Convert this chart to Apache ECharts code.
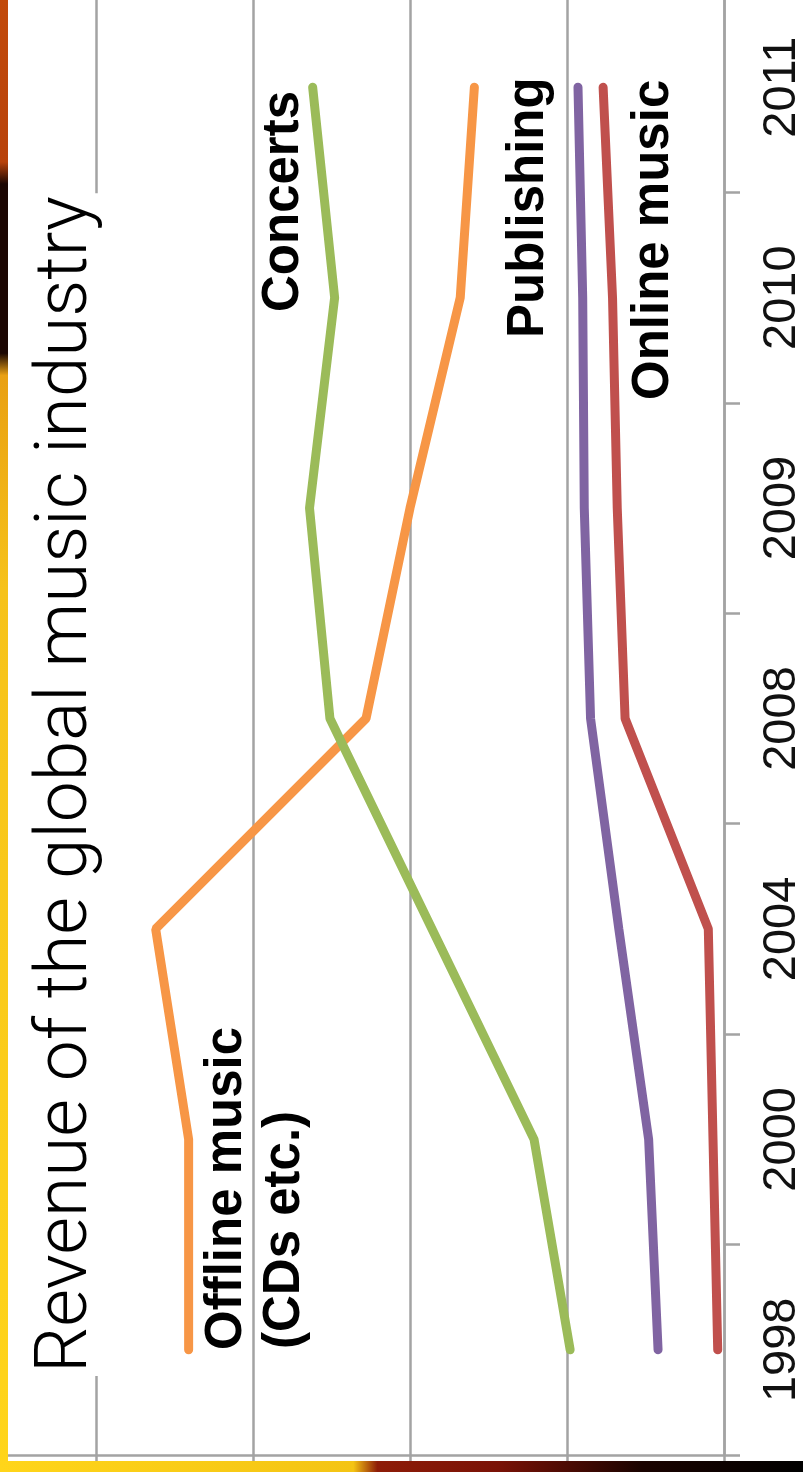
<!DOCTYPE html>
<html>
<head>
<meta charset="utf-8">
<script src="https://cdn.jsdelivr.net/npm/echarts@6/dist/echarts.min.js"></script>
<style>
html,body{margin:0;padding:0;background:#fff;}
#chart{width:803px;height:1472px;}
</style>
</head>
<body>
<div id="chart"></div>
<script>
// Categories (years) and series values (gridline unit = 10)
const years = ['1998', '2000', '2004', '2008', '2009', '2010', '2011'];
const offlineMusic = [34.1, 34.1, 36.2, 22.8, 20.0, 16.8, 15.9];
const concerts = [9.8, 12.1, 18.6, 25.1, 26.4, 24.8, 26.2];
const publishing = [4.2, 4.8, 6.7, 8.5, 8.9, 9.0, 9.3];
const onlineMusic = [0.4, 0.7, 1.0, 6.3, 6.8, 7.1, 7.7];
const valueMin = 0, valueMax = 50, valueInterval = 10;

const titleText = 'Revenue of the global music industry';
const seriesNames = ['Offline music', 'Concerts', 'Publishing', 'Online music'];

const chart = echarts.init(document.getElementById('chart'), null, {renderer: 'canvas'});
const gray = '#a3a3a3';
const FONT = '"Liberation Sans", Arial, Helvetica, sans-serif';

function lineSeries(name, data, color) {
  return {
    type: 'line', name: name, data: data,
    showSymbol: false, symbol: 'none', smooth: false,
    lineStyle: {color: color, width: 9, cap: 'round'},
    itemStyle: {color: color},
    emphasis: {disabled: true},
    animation: false
  };
}

function rotText(text, x, y, font) {
  return {
    type: 'text', x: x, y: y, rotation: Math.PI / 2, z: 50,
    style: {
      text: text, font: font, fill: '#000',
      textAlign: 'left', textVerticalAlign: 'middle',
      align: 'left', verticalAlign: 'middle'
    }
  };
}

const option = {
  backgroundColor: '#fff',
  animation: false,
  grid: {left: -61, right: 79, top: -18, bottom: 17, containLabel: false, outerBoundsMode: 'none'},
  xAxis: {
    type: 'value', inverse: true, position: 'bottom',
    min: valueMin, max: valueMax, interval: valueInterval,
    axisLabel: {show: false},
    axisLine: {show: true, lineStyle: {color: gray, width: 2.5}},
    axisTick: {show: true, length: 7, lineStyle: {color: gray, width: 2.5}},
    splitLine: {show: true, lineStyle: {color: gray, width: 2.5}}
  },
  yAxis: {
    type: 'category', data: years, position: 'right', boundaryGap: true,
    axisLine: {show: true, lineStyle: {color: gray, width: 2.5}},
    axisTick: {show: true, length: 16, inside: false, lineStyle: {color: gray, width: 2.5}},
    axisLabel: {
      rotate: 90, margin: 35, color: '#111',
      fontSize: 47, fontFamily: FONT
    },
    splitLine: {show: false}
  },
  series: [
    lineSeries(seriesNames[0], offlineMusic, '#F79646'),
    lineSeries(seriesNames[1], concerts, '#9BBB59'),
    lineSeries(seriesNames[2], publishing, '#8064A2'),
    lineSeries(seriesNames[3], onlineMusic, '#C0504D')
  ],
  graphic: [
    {
      type: 'text', x: 68, y: 1376, rotation: Math.PI / 2, z: 60,
      style: {
        text: titleText, fontSize: 73, fontFamily: 'Roboto', fontWeight: 300, fill: '#000',
        textAlign: 'left', textVerticalAlign: 'middle',
        align: 'left', verticalAlign: 'middle',
        backgroundColor: '#fff', padding: [6, 3]
      }
    },
    rotText(seriesNames[0], 227, 1350, 'bold 51px ' + FONT),
    rotText('(CDs etc.)', 285, 1349, 'bold 51px ' + FONT),
    rotText(seriesNames[1], 284, 312, 'bold 51px ' + FONT),
    rotText(seriesNames[2], 529, 338, 'bold 51px ' + FONT),
    rotText(seriesNames[3], 654, 400, 'bold 51px ' + FONT),
    {
      type: 'rect', z: 100, shape: {x: 0, y: 0, width: 8, height: 1472},
      style: {
        fill: new echarts.graphic.LinearGradient(0, 0, 0, 1, [
          {offset: 0, color: '#c24a0a'},
          {offset: 0.11, color: '#b8420a'},
          {offset: 0.125, color: '#1c0703'},
          {offset: 0.24, color: '#1c0703'},
          {offset: 0.255, color: '#e9a012'},
          {offset: 0.4, color: '#f6c21a'},
          {offset: 1, color: '#ffd51a'}
        ])
      }
    },
    {
      type: 'rect', z: 100, shape: {x: 0, y: 1461, width: 803, height: 11},
      style: {
        fill: new echarts.graphic.LinearGradient(0, 0, 1, 0, [
          {offset: 0, color: '#ffd51a'},
          {offset: 0.44, color: '#f4c414'},
          {offset: 0.47, color: '#8e1c08'},
          {offset: 0.62, color: '#7a1206'},
          {offset: 0.8, color: '#1a0300'},
          {offset: 1, color: '#000000'}
        ])
      }
    }
  ]
};
chart.setOption(option);
</script>
</body>
</html>
